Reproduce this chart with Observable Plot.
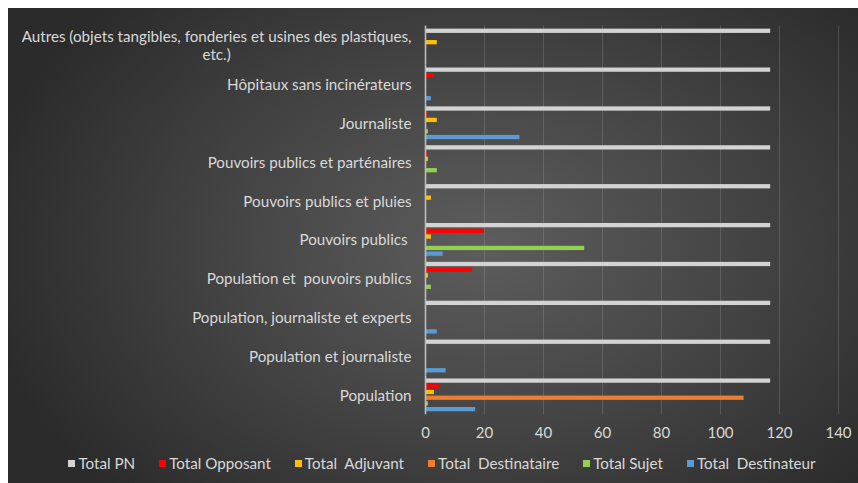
<!DOCTYPE html>
<html>
<head>
<meta charset="utf-8">
<script src="https://cdn.jsdelivr.net/npm/d3@7"></script>
<script src="https://cdn.jsdelivr.net/npm/@observablehq/plot@0.6"></script>
<style>
  html, body { margin: 0; padding: 0; background: #ffffff; width: 858px; height: 483px; overflow: hidden; }
  #bg { position: absolute; left: 8px; top: 8px; width: 850px; height: 475px;
        background: radial-gradient(ellipse 60% 75% at 56% 50%, #5d5d5d 0%, #474747 45%, #2b2b2b 100%); }
  #chart { position: absolute; left: 0; top: 0; }
  #chart svg text { white-space: pre; }
  #legend { position: absolute; left: 8px; top: 450px; width: 850px; height: 26px; box-sizing: border-box;
            padding-left: 18px; display: flex; justify-content: center; align-items: center; gap: 24px;
            font-family: Lato, sans-serif; font-size: 15.2px; color: #d9d9d9; white-space: pre; }
  #legend .item { display: flex; align-items: center; }
  #legend .sw { width: 7px; height: 7px; margin-right: 3px; display: inline-block; }
</style>
</head>
<body>
<div id="bg"></div>
<div id="chart"></div>
<div id="legend"></div>
<script>
const categories = [
  "Autres (objets tangibles, fonderies et usines des plastiques,\netc.)",
  "Hôpitaux sans incinérateurs",
  "Journaliste",
  "Pouvoirs publics et parténaires",
  "Pouvoirs publics et pluies",
  "Pouvoirs publics ",
  "Population et  pouvoirs publics",
  "Population, journaliste et experts",
  "Population et journaliste",
  "Population"
];
const series = ["Total PN", "Total Opposant", "Total  Adjuvant", "Total  Destinataire", "Total Sujet", "Total  Destinateur"];
const colors = ["#d3d3d3", "#ff0000", "#ffc000", "#ed7d31", "#92d050", "#5b9bd5"];

const totalPN           = [117, 117, 117, 117, 117, 117, 117, 117, 117, 117];
const totalOpposant     = [0, 3, 1, 1, 0, 20, 16, 0, 0, 5];
const totalAdjuvant     = [4, 0, 4, 1, 2, 2, 1, 0, 0, 3];
const totalDestinataire = [0, 0, 0, 0, 0, 0, 0, 0, 0, 108];
const totalSujet        = [0, 0, 1, 4, 0, 54, 2, 0, 0, 1];
const totalDestinateur  = [0, 2, 32, 0, 0, 6, 0, 4, 7, 17];
const xTicks = [0, 20, 40, 60, 80, 100, 120, 140];

const seriesValues = [totalPN, totalOpposant, totalAdjuvant, totalDestinataire, totalSujet, totalDestinateur];
const rows = categories.flatMap((c, i) => series.map((s, j) => ({category: c, series: s, value: seriesValues[j][i]})));
const labelRows = categories.map(c => ({category: c, label: c}));

const plot = Plot.plot({
  width: 858,
  height: 448,
  marginLeft: 425,
  marginRight: 20,
  marginTop: 25.6,
  marginBottom: 33.7,
  style: {background: "transparent", color: "#d9d9d9", fontFamily: "Lato, sans-serif", fontSize: "15px", overflow: "visible"},
  x: {domain: [0, 140], ticks: xTicks, tickSize: 0, tickPadding: 13, label: null},
  y: {domain: series, axis: null, paddingInner: 0.25, paddingOuter: 0.53, round: false},
  fy: {domain: categories, axis: null, padding: 0, round: false},
  color: {domain: series, range: colors},
  marks: [
    Plot.ruleX(xTicks.slice(1), {stroke: "#a0a0a0", strokeOpacity: 0.28, strokeWidth: 1}),
    Plot.barX(rows, {fy: "category", y: "series", x: "value", fill: "series"}),
    Plot.ruleX([0], {stroke: "#bdbdbd", strokeWidth: 1.6}),
    Plot.text(labelRows, {fy: "category", text: "label", frameAnchor: "left", textAnchor: "end",
                          dx: -14, fill: "#d9d9d9", fontSize: 15.2, lineHeight: 1.15})
  ]
});
document.getElementById("chart").appendChild(plot);

// Center the wrapped second line of the long label (as Excel does)
plot.querySelectorAll("text").forEach(t => {
  const spans = t.querySelectorAll("tspan");
  if (spans.length === 2) {
    const len = spans[0].getComputedTextLength();
    spans[1].setAttribute("x", -len / 2);
    spans[1].style.textAnchor = "middle";
  }
});

const legend = document.getElementById("legend");
series.forEach((s, j) => {
  const item = document.createElement("span");
  item.className = "item";
  const sw = document.createElement("span");
  sw.className = "sw";
  sw.style.background = colors[j];
  item.appendChild(sw);
  item.appendChild(document.createTextNode(s));
  legend.appendChild(item);
});
</script>
</body>
</html>
